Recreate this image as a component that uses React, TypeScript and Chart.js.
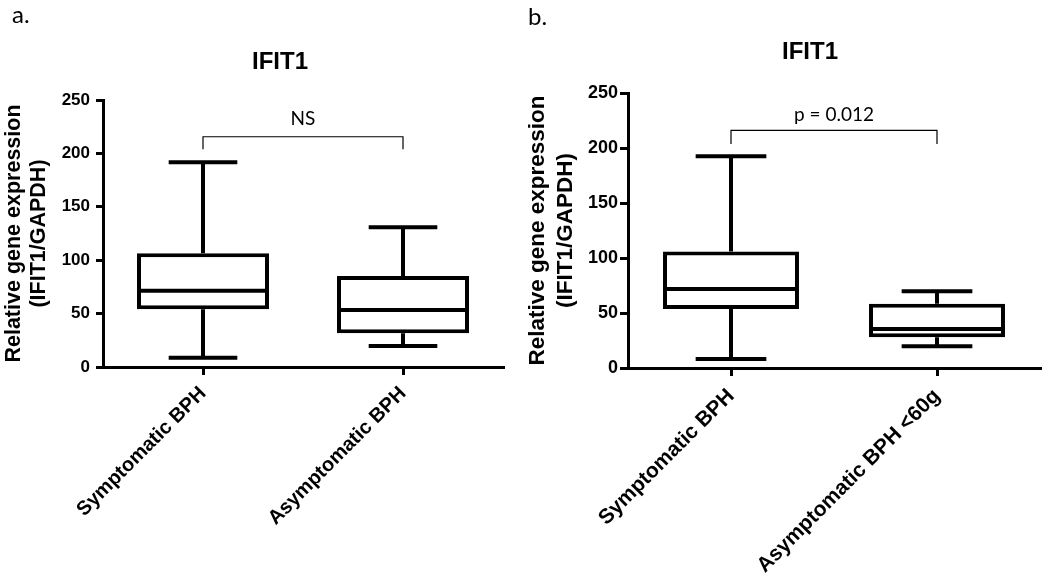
import React, { useEffect, useRef } from "react";
import { Chart, registerables } from "chart.js";

Chart.register(...registerables);

// ---------------- data ----------------
const categoriesA = ["Symptomatic BPH", "Asymptomatic BPH"];
const minA = [8.7, 19.7];
const q1A = [54, 31.5];
const medianA = [71.5, 53.4];
const q3A = [106.4, 85.2];
const maxA = [191.7, 130.8];
const bracketA = [204, 215.6];
const labelA = "NS";

const categoriesB = ["Symptomatic BPH", "Asymptomatic BPH <60g"];
const minB = [8.2, 19.7];
const q1B = [53.6, 27.9];
const medianB = [71.8, 35.5];
const q3B = [106, 58.5];
const maxB = [192.4, 69.7];
const bracketB = [203.6, 216];
const labelB = "p = 0.012";

const yMin = 0;
const yMax = 250;
const yStep = 50;
const chartTitle = "IFIT1";
const yTitle = ["Relative gene expression", "(IFIT1/GAPDH)"];

const ARIAL = "'Liberation Sans', Arial, Helvetica, sans-serif";
const CALIBRI = "Lato, 'Open Sans', sans-serif";

type Panel = {
  letter: string;
  categories: string[];
  min: number[];
  q1: number[];
  median: number[];
  q3: number[];
  max: number[];
  bracket: number[];
  label: string;
  // layout
  left: number;
  width: number;
  padTop: number;
  padRight: number;
  yWidth: number;
  xHeight: number;
  tickFont: number;
  xFont: number;
  yTitleFont: number;
  yTitleLH: string;
  yTitlePad: number;
  yTickLen: number;
  yTickPad: number;
  xPad: number;
  titleX: number;
  titleY: number;
  letterX: number;
  letterY: number;
  labelGap: number;
};

const panels: Panel[] = [
  {
    letter: "a.",
    categories: categoriesA,
    min: minA, q1: q1A, median: medianA, q3: q3A, max: maxA,
    bracket: bracketA, label: labelA,
    left: 0, width: 520, padTop: 100, padRight: 17, yWidth: 103, xHeight: 212,
    tickFont: 17, xFont: 20, yTitleFont: 21.5, yTitleLH: "25px", yTitlePad: 1.5,
    yTickLen: 7, yTickPad: 6, xPad: 7,
    titleX: 280, titleY: 62, letterX: 12, letterY: 23, labelGap: 12,
  },
  {
    letter: "b.",
    categories: categoriesB,
    min: minB, q1: q1B, median: medianB, q3: q3B, max: maxB,
    bracket: bracketB, label: labelB,
    left: 520, width: 530, padTop: 93, padRight: 10, yWidth: 108, xHeight: 211,
    tickFont: 18, xFont: 21, yTitleFont: 22.5, yTitleLH: "28px", yTitlePad: 4,
    yTickLen: 8, yTickPad: 2, xPad: 8,
    titleX: 290, titleY: 52, letterX: 8, letterY: 25, labelGap: 9,
  },
];

function makePlugin(p: Panel) {
  return {
    id: "boxWhisker",
    afterDatasetsDraw(chart: any) {
      const { ctx } = chart;
      const y = chart.scales.y;
      const x = chart.scales.x;
      const meta = chart.getDatasetMeta(0);
      ctx.save();
      ctx.strokeStyle = "#000";
      ctx.lineWidth = 4;
      ctx.lineCap = "butt";
      meta.data.forEach((bar: any, i: number) => {
        const props = bar.getProps(["x", "width"], true);
        const cx = props.x;
        const half = props.width / 2;
        const cap = (props.width * 0.52) / 2;
        const pMin = y.getPixelForValue(p.min[i]);
        const pQ1 = y.getPixelForValue(p.q1[i]);
        const pMed = y.getPixelForValue(p.median[i]);
        const pQ3 = y.getPixelForValue(p.q3[i]);
        const pMax = y.getPixelForValue(p.max[i]);
        ctx.beginPath();
        ctx.moveTo(cx - half, pMed);
        ctx.lineTo(cx + half, pMed);
        ctx.moveTo(cx, pQ3);
        ctx.lineTo(cx, pMax);
        ctx.moveTo(cx - cap, pMax);
        ctx.lineTo(cx + cap, pMax);
        ctx.moveTo(cx, pQ1);
        ctx.lineTo(cx, pMin);
        ctx.moveTo(cx - cap, pMin);
        ctx.lineTo(cx + cap, pMin);
        ctx.stroke();
      });
      // significance bracket
      const x0 = x.getPixelForValue(0);
      const x1 = x.getPixelForValue(1);
      const yl = y.getPixelForValue(p.bracket[0]);
      const yh = y.getPixelForValue(p.bracket[1]);
      ctx.lineWidth = 1.2;
      ctx.beginPath();
      ctx.moveTo(x0, yl);
      ctx.lineTo(x0, yh);
      ctx.lineTo(x1, yh);
      ctx.lineTo(x1, yl);
      ctx.stroke();
      ctx.fillStyle = "#000";
      ctx.font = `19px ${CALIBRI}`;
      ctx.textAlign = "center";
      ctx.textBaseline = "alphabetic";
      ctx.fillText(p.label, (x0 + x1) / 2, yh - p.labelGap);
      // title and panel letter
      ctx.font = `bold 24px ${ARIAL}`;
      ctx.textBaseline = "middle";
      ctx.fillText(chartTitle, p.titleX, p.titleY);
      ctx.font = `24px ${CALIBRI}`;
      ctx.textAlign = "left";
      ctx.textBaseline = "alphabetic";
      ctx.fillText(p.letter, p.letterX, p.letterY);
      ctx.restore();
    },
  };
}

function PanelChart({ p }: { p: Panel }) {
  const ref = useRef<HTMLCanvasElement | null>(null);
  useEffect(() => {
    if (!ref.current) return;
    const chart = new Chart(ref.current, {
      type: "bar",
      data: {
        labels: p.categories,
        datasets: [
          {
            data: p.q1.map((v, i) => [v, p.q3[i]]) as any,
            backgroundColor: "#fff",
            borderColor: "#000",
            borderWidth: 4,
            borderSkipped: false,
            categoryPercentage: 1,
            barPercentage: 0.66,
          },
        ],
      },
      options: {
        responsive: false,
        animation: false,
        devicePixelRatio: 1,
        layout: { padding: { top: p.padTop, right: p.padRight, left: 0, bottom: 0 } },
        plugins: { legend: { display: false }, tooltip: { enabled: false }, title: { display: false } },
        scales: {
          x: {
            type: "category",
            offset: true,
            grid: {
              display: true,
              drawOnChartArea: false,
              drawTicks: true,
              tickLength: 8,
              lineWidth: 3,
              color: "#000",
              offset: false,
            },
            border: { display: true, width: 3, color: "#000" },
            ticks: {
              color: "#000",
              font: { family: ARIAL, size: p.xFont, weight: "bold" },
              minRotation: 45,
              maxRotation: 45,
              autoSkip: false,
              padding: p.xPad,
            },
            afterFit: (s: any) => {
              s.height = p.xHeight;
            },
          },
          y: {
            min: yMin,
            max: yMax,
            grid: {
              display: true,
              drawOnChartArea: false,
              drawTicks: true,
              tickLength: p.yTickLen,
              lineWidth: 3,
              color: "#000",
            },
            border: { display: true, width: 3, color: "#000" },
            ticks: {
              stepSize: yStep,
              color: "#000",
              font: { family: ARIAL, size: p.tickFont, weight: "bold" },
              padding: p.yTickPad,
            },
            title: {
              display: true,
              text: yTitle,
              color: "#000",
              font: { family: ARIAL, size: p.yTitleFont, weight: "bold", lineHeight: p.yTitleLH },
              padding: { top: p.yTitlePad, bottom: 0 },
            },
            afterFit: (s: any) => {
              s.width = p.yWidth;
            },
          },
        },
      } as any,
      plugins: [makePlugin(p)],
    });
    return () => chart.destroy();
  }, [p]);
  return (
    <canvas
      ref={ref}
      width={p.width}
      height={579}
      style={{ position: "absolute", left: p.left, top: 0, width: p.width, height: 579 }}
    />
  );
}

export default function App() {
  return (
    <div style={{ position: "fixed", left: 0, top: 0, width: 1050, height: 579, background: "#fff" }}>
      {panels.map((p) => (
        <PanelChart key={p.letter} p={p} />
      ))}
    </div>
  );
}
